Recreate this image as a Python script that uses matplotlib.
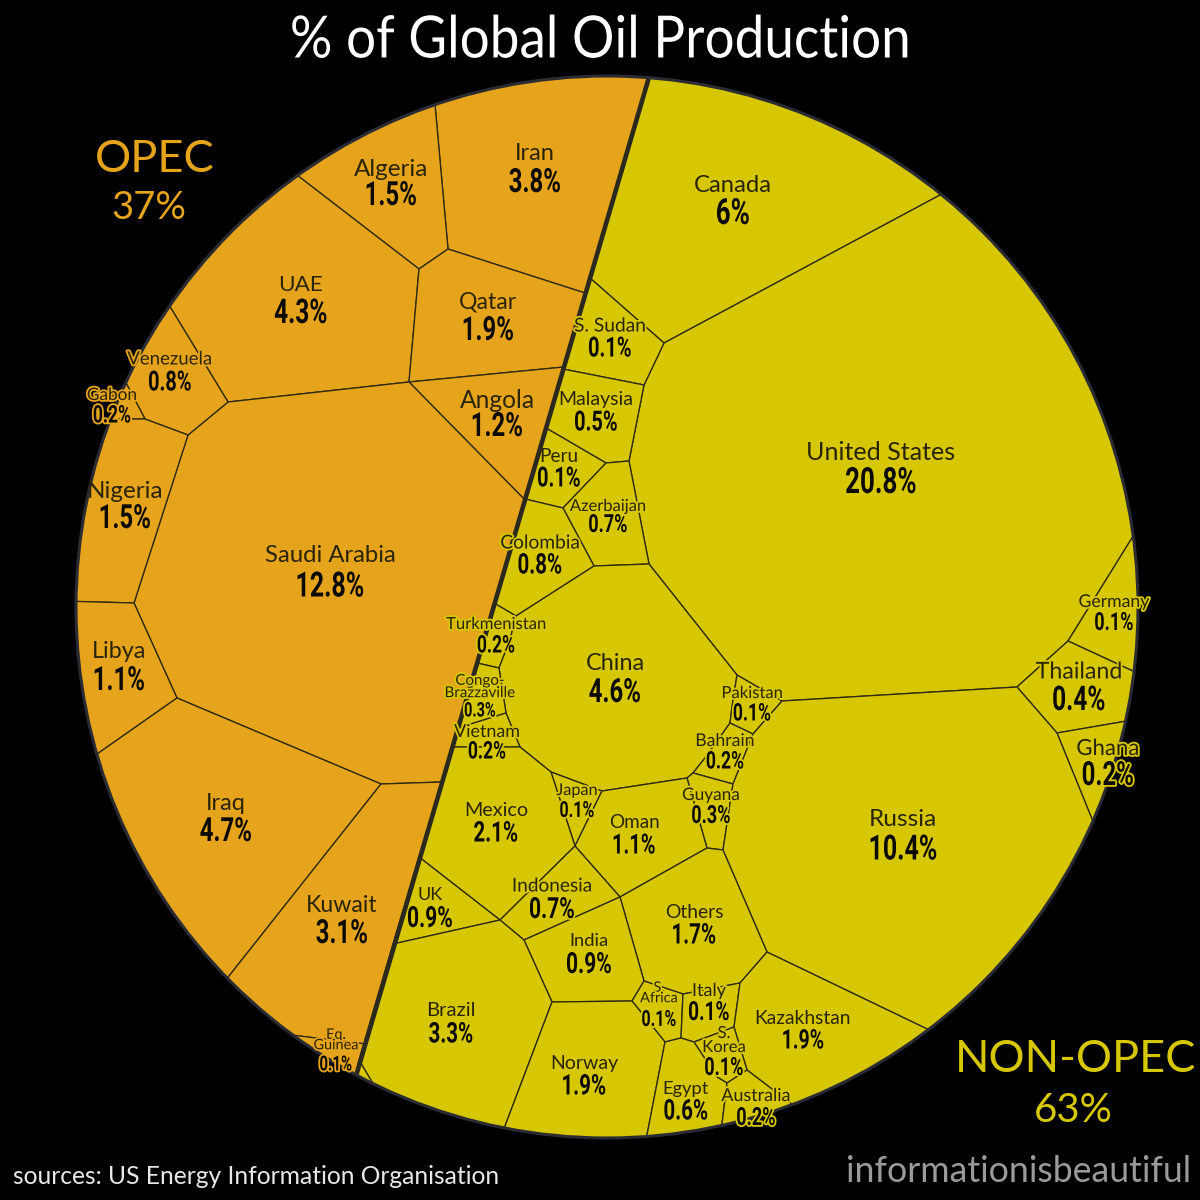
import matplotlib
matplotlib.use("Agg")
import matplotlib.pyplot as plt
from matplotlib.patches import Circle, Polygon
from matplotlib.transforms import Affine2D
import matplotlib.patheffects as pe

# DATA ------------------------------------------------------------------------
opec_names = ["Iran", "Algeria", "UAE", "Qatar", "Angola", "Saudi Arabia", "Venezuela",
              "Gabon", "Nigeria", "Libya", "Iraq", "Kuwait", "Eq.\nGuinea"]
opec_share = [3.8, 1.5, 4.3, 1.9, 1.2, 12.8, 0.8, 0.2, 1.5, 1.1, 4.7, 3.1, 0.1]

non_opec_names = ["Canada", "United States", "S. Sudan", "Malaysia", "Peru", "Azerbaijan",
                  "Colombia", "Germany", "Turkmenistan", "China", "Thailand", "Congo-\nBrazzaville",
                  "Pakistan", "Ghana", "Vietnam", "Bahrain", "Japan", "Guyana", "Russia", "Mexico",
                  "Oman", "UK", "Indonesia", "Others", "India", "Brazil", "S.\nAfrica", "Italy",
                  "Kazakhstan", "S.\nKorea", "Norway", "Egypt", "Australia"]
non_opec_share = [6, 20.8, 0.1, 0.5, 0.1, 0.7, 0.8, 0.1, 0.2, 4.6, 0.4, 0.3, 0.1, 0.2, 0.2,
                  0.2, 0.1, 0.3, 10.4, 2.1, 1.1, 0.9, 0.7, 1.7, 0.9, 3.3, 0.1, 0.1, 1.9, 0.1,
                  1.9, 0.6, 0.2]

opec_total = 37
non_opec_total = 63

# LAYOUT ----------------------------------------------------------------------
# the voronoi cells in pixel coords, points outside the circle get clipped
cells = {
    "Iran": [(431,60),(657,50),(585,293),(448,249)],
    "Algeria": [(280,162),(431,60),(448,249),(419,269)],
    "UAE": [(280,162),(419,269),(409,382),(228,402),(155,282)],
    "Qatar": [(448,249),(585,293),(564,367),(409,382),(419,269)],
    "Angola": [(409,382),(564,367),(525,500)],
    "Saudi Arabia": [(228,402),(409,382),(525,500),(442,782),(381,784),(177,698),(134,603),(188,435)],
    "Venezuela": [(155,282),(228,402),(188,435),(145,419),(115,362)],
    "Gabon": [(115,362),(145,419),(100,419)],
    "Nigeria": [(100,419),(145,419),(188,435),(134,603),(60,601)],
    "Libya": [(60,601),(134,603),(177,698),(70,773)],
    "Iraq": [(70,773),(177,698),(381,784),(210,1000)],
    "Kuwait": [(381,784),(442,782),(366,1044),(323,1039),(275,1033),(210,1000)],
    "Eq.\nGuinea": [(275,1033),(366,1044),(349,1100)],
    "Canada": [(657,50),(800,60),(960,175),(940,195),(664,343),(590,278)],
    "United States": [(940,195),(960,175),(1100,300),(1145,517),(1132,538),(1068,641),(1017,687),
                      (782,701),(737,675),(649,564),(629,461),(644,385),(664,343)],
    "S. Sudan": [(590,278),(664,343),(644,385),(563,369)],
    "Malaysia": [(563,369),(644,385),(629,461),(606,463),(546,428)],
    "Peru": [(546,428),(606,463),(563,508),(525,499)],
    "Azerbaijan": [(606,463),(629,461),(649,564),(594,566),(563,508)],
    "Colombia": [(525,499),(563,508),(594,566),(516,616),(494,603)],
    "Germany": [(1145,517),(1160,676),(1133,671),(1068,641)],
    "Turkmenistan": [(494,603),(516,616),(510,640),(499,668),(477,663)],
    "China": [(516,616),(594,566),(649,564),(737,675),(732,707),(730,723),(705,758),(693,773),
              (687,778),(602,791),(551,772),(520,747),(506,713),(499,668),(510,640)],
    "Thailand": [(1068,641),(1150,679),(1150,717),(1057,733),(1017,687)],
    "Congo-\nBrazzaville": [(477,663),(499,668),(506,713),(458,728)],
    "Pakistan": [(737,675),(782,701),(753,734),(730,723),(732,707)],
    "Ghana": [(1057,733),(1150,717),(1105,851)],
    "Vietnam": [(458,728),(506,713),(520,747),(452,747)],
    "Bahrain": [(730,723),(753,734),(733,784),(693,773),(705,758)],
    "Japan": [(551,772),(602,791),(575,846)],
    "Guyana": [(687,778),(693,773),(733,784),(723,850),(707,848)],
    "Russia": [(782,701),(1017,687),(1057,733),(1105,851),(1040,960),(950,1040),(767,952),(723,850),
               (733,784),(753,734)],
    "Mexico": [(452,747),(520,747),(551,772),(575,846),(500,920),(419,857)],
    "Oman": [(602,791),(687,778),(707,848),(620,897),(575,846)],
    "UK": [(419,857),(500,920),(393,944)],
    "Indonesia": [(575,846),(620,897),(524,940),(500,920)],
    "Others": [(620,897),(707,848),(723,850),(767,952),(740,983),(683,994),(644,981)],
    "India": [(524,940),(620,897),(644,981),(632,1001),(552,1002)],
    "Brazil": [(393,944),(500,920),(524,940),(552,1002),(505,1126),(497,1150),(385,1120),(372,1082),(359,1060)],
    "S.\nAfrica": [(644,981),(683,994),(681,1038),(665,1042),(632,1001)],
    "Italy": [(683,994),(740,983),(734,1027),(694,1042),(681,1038)],
    "Kazakhstan": [(767,952),(950,1040),(810,1118),(747,1070),(734,1027),(740,983)],
    "S.\nKorea": [(694,1042),(734,1027),(747,1070),(727,1083),(717,1077)],
    "Norway": [(552,1002),(632,1001),(665,1042),(647,1135),(643,1160),(497,1150),(505,1126)],
    "Egypt": [(665,1042),(681,1038),(694,1042),(717,1077),(727,1083),(722,1124),(720,1150),(643,1160),(647,1135)],
    "Australia": [(727,1083),(747,1070),(810,1118),(720,1150),(722,1124)],
}
# little unlabelled cell at the bottom of the divider
sliver = [(359,1060),(372,1082),(385,1120),(349,1100)]

# name centre x, name centre y, value centre y, name size, value size
labels = {
    "Iran": (535,154,183,17,24),
    "Algeria": (391,169,196,17.5,24),
    "Canada": (733,185,214,17.2,26),
    "UAE": (301,285,314,16.2,24.5),
    "Qatar": (488,302,331,16.6,24),
    "S. Sudan": (610,326,349,13.8,20),
    "Malaysia": (596,399,423,14,20),
    "Angola": (497,400,427,17.7,24),
    "Venezuela": (170,359,383,13.4,20),
    "Gabon": (112,395,416,12.4,17.5),
    "United States": (881,453,483,18.1,26),
    "Peru": (559,457,479,13.7,20),
    "Azerbaijan": (608,506,525,11.9,18),
    "Nigeria": (125,491,519,17.5,24),
    "Saudi Arabia": (330,556,587,17.2,25),
    "Colombia": (540,543,566,13.8,20.5),
    "Germany": (1114,602,623,12.7,18),
    "Turkmenistan": (496,624,646,12,17.5),
    "Libya": (119,652,681,16.8,24),
    "China": (615,663,693,16.8,24),
    "Thailand": (1079,672,701,16.7,24.5),
    "Congo-\nBrazzaville": (480,687,711,10.9,14.5),
    "Pakistan": (752,693,714,12,17.5),
    "Ghana": (1108,749,776,16,24),
    "Vietnam": (487,732,752,12.9,17.5),
    "Bahrain": (725,741,762,12.7,17.5),
    "Iraq": (226,803,832,17,24),
    "Japan": (577,791,811,11.7,16),
    "Guyana": (711,795,816,12.4,18),
    "Russia": (903,820,850,17.6,25),
    "Mexico": (496,811,834,14.2,20.5),
    "Oman": (634,823,846,13.6,20),
    "Kuwait": (342,905,934,16.7,24),
    "UK": (430,895,919,13,21),
    "Indonesia": (552,886,910,13.7,21),
    "Others": (694,912,936,13.9,20.5),
    "India": (589,941,965,13.2,21),
    "Brazil": (451,1010,1035,14.6,20.5),
    "S.\nAfrica": (659,993,1020,10.4,16),
    "Italy": (709,991,1013,13,19),
    "Kazakhstan": (803,1018,1041,13.9,19.5),
    "S.\nKorea": (724,1040,1068,12,18),
    "Norway": (584,1063,1087,14,20.5),
    "Egypt": (686,1089,1112,13.2,20.5),
    "Australia": (756,1096,1118,12.9,18),
    "Eq.\nGuinea": (336,1040,1065,10.4,15),
}
# labels hanging off the circle or right over a cell line get a halo
halo_labels = ["Venezuela", "Gabon", "Germany", "Turkmenistan", "Congo-\nBrazzaville", "Pakistan",
               "Ghana", "Vietnam", "Bahrain", "Japan", "Guyana", "S. Sudan", "Colombia", "Thailand",
               "Azerbaijan", "Indonesia", "S.\nAfrica", "Italy", "S.\nKorea", "Australia", "Eq.\nGuinea"]

ORANGE = "#E5A41B"
YELLOW = "#D7C700"
LINE = "#2E2A14"
DIVIDER = "#2B291E"
RIM = "#2B2B33"
NAME_FONT = ["Lato", "DejaVu Sans"]
VALUE_FONT = ["Roboto", "DejaVu Sans"]
VALUE_SQUEEZE = 0.72
TITLE_SQUEEZE = 0.91

# no condensed font around, so narrow the glyphs while drawing the text
class Squeeze(pe.AbstractPathEffect):
    def __init__(self, factor, inner):
        super().__init__()
        self.factor = factor
        self.inner = inner

    def draw_path(self, renderer, gc, tpath, affine, rgbFace=None):
        xs = tpath.vertices[:, 0]
        mid = (xs.min() + xs.max()) / 2.0
        shrink = Affine2D().translate(-mid, 0).scale(self.factor, 1).translate(mid, 0)
        self.inner.draw_path(renderer, gc, tpath, shrink + affine, rgbFace)

# PLOT ------------------------------------------------------------------------
fig = plt.figure(figsize=(12, 12), dpi=100, facecolor="black")
ax = fig.add_axes([0, 0, 1, 1])
ax.set_xlim(0, 1200)
ax.set_ylim(1200, 0)
ax.axis("off")

disc = Circle((607, 607), 531, facecolor=YELLOW, edgecolor="none", zorder=1)
ax.add_patch(disc)

def drawCell(points, colour):
    cell = Polygon(points, closed=True, facecolor=colour, edgecolor=LINE, linewidth=0.95, zorder=2)
    ax.add_patch(cell)
    cell.set_clip_path(disc)

def drawLabel(name, share, colour):
    x, y_name, y_value, size_name, size_value = labels[name]
    name_effects = None
    value_effects = [Squeeze(VALUE_SQUEEZE, pe.Normal())]
    if name in halo_labels:
        stroke = pe.withStroke(linewidth=2.6, foreground=colour)
        name_effects = [stroke]
        value_effects = [Squeeze(VALUE_SQUEEZE, stroke)]
    ax.text(x, y_name, name, ha="center", va="center", fontsize=size_name, family=NAME_FONT,
            color="#2A2408", linespacing=0.85, zorder=5, path_effects=name_effects)
    ax.text(x, y_value, f"{share:g}%", ha="center", va="center", fontsize=size_value, family=VALUE_FONT,
            weight="bold", color="#0C0A02", zorder=5, path_effects=value_effects)

for name, share in zip(opec_names, opec_share):
    drawCell(cells[name], ORANGE)
for name, share in zip(non_opec_names, non_opec_share):
    drawCell(cells[name], YELLOW)
drawCell(sliver, YELLOW)

# thick OPEC / non-OPEC divider and the rim
divider, = ax.plot([657, 349], [50, 1100], color=DIVIDER, linewidth=3.3, solid_capstyle="butt", zorder=3)
divider.set_clip_path(disc)
ax.add_patch(Circle((607, 607), 531, facecolor="none", edgecolor=RIM, linewidth=2.2, zorder=4))

for name, share in zip(opec_names, opec_share):
    drawLabel(name, share, ORANGE)
for name, share in zip(non_opec_names, non_opec_share):
    drawLabel(name, share, YELLOW)

# headings
ax.text(601, 41, "% of Global Oil Production", ha="center", va="center", fontsize=42, color="white",
        family=NAME_FONT, path_effects=[Squeeze(TITLE_SQUEEZE, pe.Normal())])
ax.text(155, 160, "OPEC", ha="center", va="center", fontsize=32.6, color=ORANGE, family=NAME_FONT)
ax.text(149, 208, f"{opec_total}%", ha="center", va="center", fontsize=27.5, color=ORANGE, family=NAME_FONT)
ax.text(1076, 1060, "NON-OPEC", ha="center", va="center", fontsize=32.5, color=YELLOW, family=NAME_FONT)
ax.text(1073, 1110, f"{non_opec_total}%", ha="center", va="center", fontsize=29, color=YELLOW, family=NAME_FONT)
ax.text(13, 1176, "sources: US Energy Information Organisation", ha="left", va="center", fontsize=17.7,
        color="#E8E8E8", family=NAME_FONT)
ax.text(1191, 1171, "informationisbeautiful", ha="right", va="center", fontsize=25.7, color="#9A9A9A",
        family=NAME_FONT)

fig.savefig("out.png", dpi=100, facecolor="black")
